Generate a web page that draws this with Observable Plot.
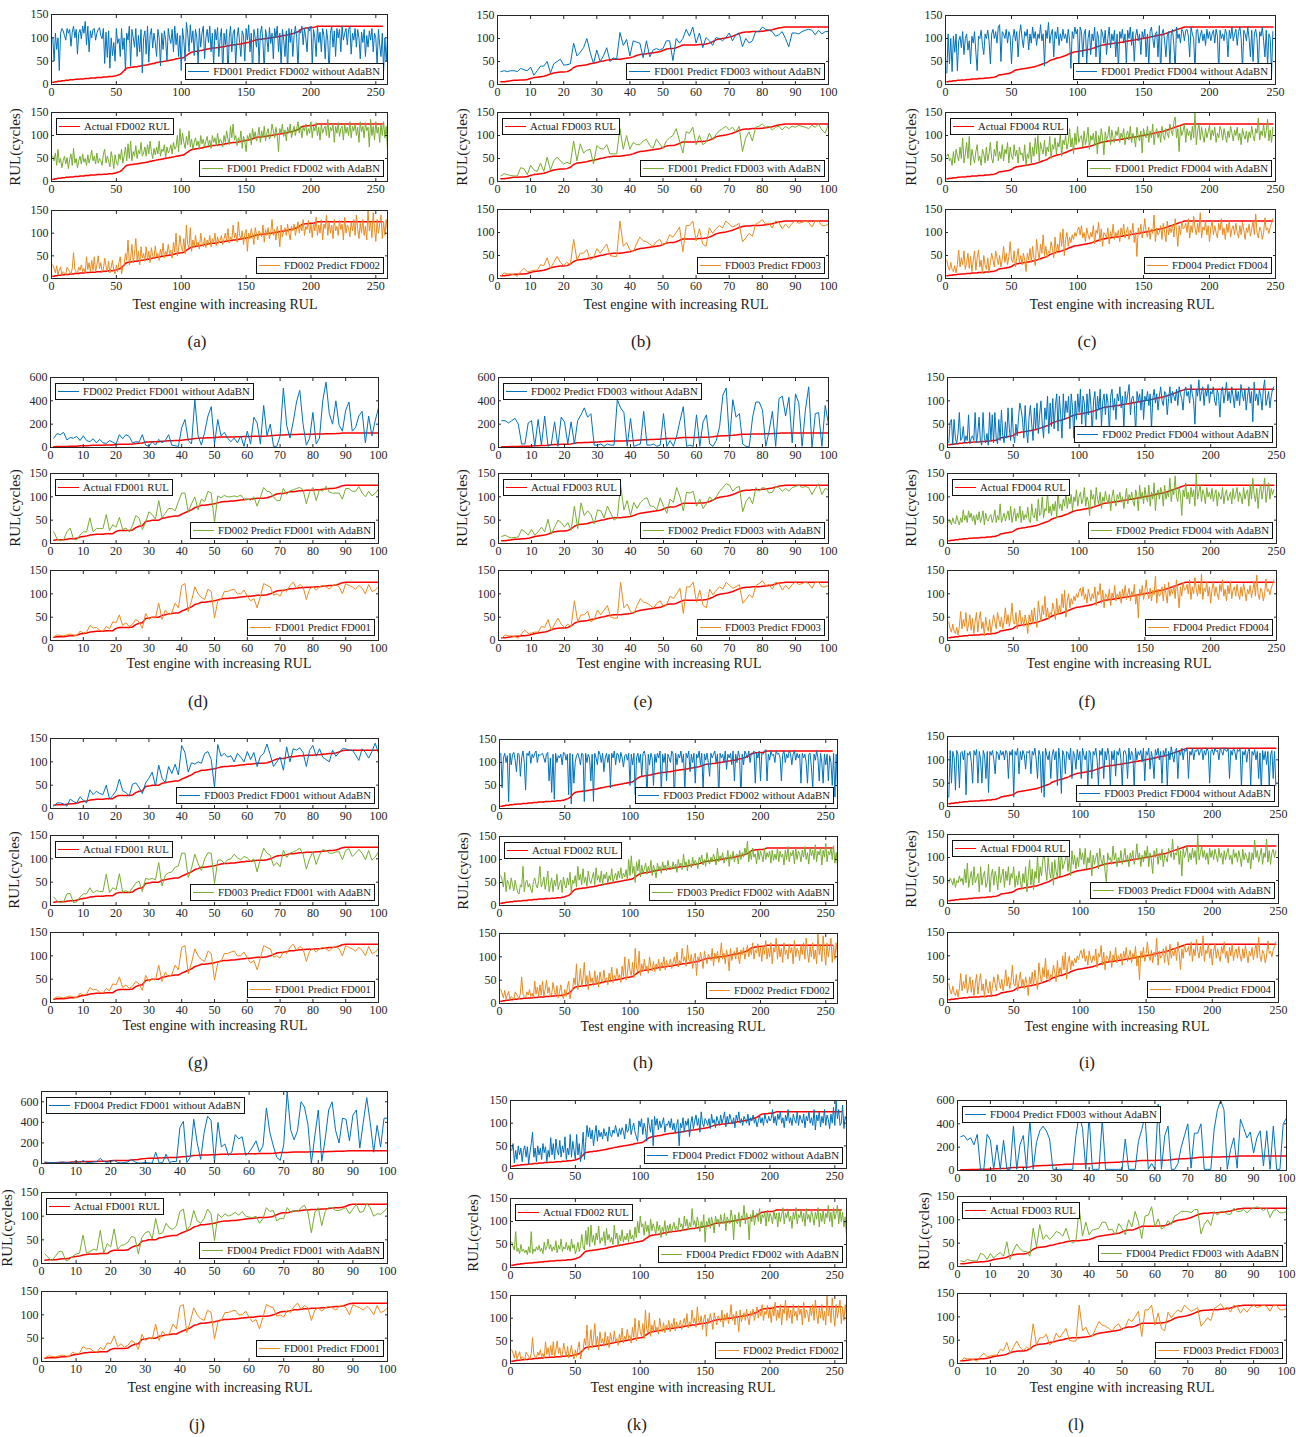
<!DOCTYPE html>
<html><head><meta charset="utf-8">
<script src="https://cdn.jsdelivr.net/npm/d3@7"></script>
<script src="https://cdn.jsdelivr.net/npm/@observablehq/plot@0.6"></script>
<style>
html,body{margin:0;padding:0;background:#fff;}
#fig{position:relative;width:1296px;height:1437px;overflow:hidden;font-family:"Liberation Serif","Times New Roman",serif;color:#1a1a1a;}
#fig svg{background:transparent !important;}
.lg{position:absolute;background:#fff;border:1px solid #111;font-size:10.8px;line-height:15px;padding:0 3px 0 2px;white-space:nowrap;display:flex;align-items:center;}
.lg .sw{display:inline-block;width:21px;height:0;border-top:1.5px solid;margin-right:4px;}
.tx{position:absolute;white-space:nowrap;transform:translate(-50%,-50%);}
</style></head><body><div id="fig"></div>
<script>
// ---------- tick labels ----------
const xTicks100 = [0,10,20,30,40,50,60,70,80,90,100];
const xTicks250 = [0,50,100,150,200,250];
const yTicks150 = [0,50,100,150];
const yTicks600 = [0,200,400,600];

// ---------- actual RUL (sorted, capped at 125) ----------
const actualFD001 = [7,8,8,8,9,10,10,11,14,15,16,18,19,20,20,20,21,21,21,26,28,28,28,28,29,34,37,38,47,48,50,50,50,54,55,57,58,59,59,63,66,69,72,77,79,82,82,83,84,85,87,89,90,90,91,91,92,93,94,95,95,96,97,97,97,98,100,103,106,107,107,109,111,111,112,113,113,114,114,114,115,115,116,117,118,118,119,121,124,125,125,125,125,125,125,125,125,125,125,125];
const actualFD003 = [6,6,7,8,9,9,10,10,11,13,15,16,17,18,20,23,25,26,27,27,28,31,37,40,41,42,43,45,46,48,50,51,53,54,55,55,55,56,57,58,60,63,65,66,67,68,69,70,71,74,77,78,78,80,83,86,86,86,86,86,87,87,88,90,93,97,99,100,101,103,105,108,111,113,114,114,115,115,115,116,117,118,119,121,123,124,125,125,125,125,125,125,125,125,125,125,125,125,125,125];
const actualFD002 = [5,5,6,6,7,7,7,8,8,8,9,9,9,10,10,10,10,11,11,11,11,12,12,12,12,13,13,13,13,14,14,14,14,14,15,15,15,15,15,16,16,16,16,17,17,17,17,18,18,19,20,21,22,24,27,30,33,35,36,36,37,37,37,38,38,38,39,39,40,40,41,41,42,42,43,44,44,45,45,46,47,47,48,48,49,49,50,50,51,51,52,52,53,53,54,55,55,56,56,57,57,58,60,62,64,66,68,69,70,70,71,71,72,72,73,73,74,75,75,76,76,77,77,78,78,78,79,79,80,80,80,81,81,82,82,83,83,84,84,85,85,85,86,86,87,87,88,88,89,89,90,90,91,92,93,94,95,96,96,97,97,97,98,98,98,99,99,100,100,100,101,101,102,102,103,103,104,104,105,105,106,106,107,108,108,109,110,111,112,113,115,117,119,120,120,121,121,121,122,122,122,122,123,124,125,125,125,125,125,125,125,125,125,125,125,125,125,125,125,125,125,125,125,125,125,125,125,125,125,125,125,125,125,125,125,125,125,125,125,125,125,125,125,125,125,125,125,125,125,125,125,125,125,125,125];
const actualFD004 = [6,6,7,7,7,8,8,8,9,9,9,10,10,10,10,11,11,11,11,12,12,12,12,12,13,13,13,13,13,14,14,14,14,15,15,15,16,17,18,20,21,21,22,22,23,23,24,24,25,26,28,30,31,32,32,33,33,34,34,35,35,36,36,37,37,38,38,39,40,41,42,43,44,45,46,47,48,50,52,53,54,55,56,57,58,58,59,60,61,62,63,64,66,67,68,69,70,71,71,72,72,73,73,74,74,75,75,76,76,77,78,79,80,81,82,83,84,85,86,86,87,87,88,88,88,89,89,90,90,90,91,91,92,92,93,93,94,94,95,95,96,96,97,97,98,98,99,99,100,100,101,101,102,102,103,104,104,105,106,106,107,107,108,108,109,110,111,112,113,114,115,116,117,118,119,120,121,122,123,124,125,125,125,125,125,125,125,125,125,125,125,125,125,125,125,125,125,125,125,125,125,125,125,125,125,125,125,125,125,125,125,125,125,125,125,125,125,125,125,125,125,125,125,125,125,125,125,125,125,125,125,125,125,125,125,125,125,125,125,125,125,125,125,125,125,125,125,125];

// ---------- FD001 as target ----------
const fd001PredFD001 = [8,12,11,10,12,14,12,10,20,16,18,32,27,28,22,20,30,25,40,38,55,32,38,30,35,45,40,26,58,45,50,48,80,45,65,55,60,80,70,118,122,62,85,115,100,92,88,110,105,48,85,88,105,105,108,110,100,100,108,95,85,90,70,95,122,118,115,97,100,95,110,105,118,125,112,120,115,88,110,115,108,115,118,115,110,118,120,115,100,122,118,115,110,118,112,100,120,105,108,115];
const fd002PredFD001Without = [80,120,110,130,65,85,80,95,60,100,60,50,75,40,70,40,35,60,45,30,110,75,110,95,40,50,45,110,20,10,50,20,70,40,60,110,20,15,10,170,240,60,30,410,100,20,130,270,350,30,240,100,130,80,50,80,40,100,10,140,30,260,210,30,360,100,200,10,10,100,510,190,80,220,390,490,200,20,80,300,30,80,400,560,290,200,400,190,140,320,390,140,170,270,310,40,270,100,230,340];
const fd002PredFD001With = [25,10,6,8,25,33,10,8,18,25,25,55,25,32,32,32,62,28,40,35,56,30,33,25,38,60,55,30,45,68,62,52,92,55,65,75,75,70,90,108,108,68,85,100,72,95,90,112,108,45,102,98,103,100,100,102,100,104,95,95,93,100,80,100,120,112,110,100,92,92,118,105,113,115,118,120,115,85,110,120,92,115,112,123,110,108,108,108,95,118,118,112,112,122,108,100,112,102,108,116];
const fd003PredFD001Without = [5,12,12,10,5,20,15,12,25,18,12,40,30,37,32,30,50,20,28,38,63,38,34,27,52,55,45,32,55,65,78,48,93,65,55,90,75,95,72,135,120,78,98,95,100,97,118,122,105,45,137,112,118,110,113,100,118,110,100,122,105,120,90,112,118,138,115,90,100,110,82,132,100,128,125,130,120,90,125,135,112,128,110,105,100,125,112,120,128,128,125,125,115,103,128,120,108,122,140,118];
const fd003PredFD001With = [18,10,6,8,25,26,6,8,18,25,25,38,27,32,30,30,67,28,38,34,68,28,32,28,38,48,52,30,58,56,58,55,92,42,65,70,72,82,85,112,112,60,80,110,90,75,100,113,112,47,97,98,90,98,100,110,102,98,105,102,95,100,72,100,123,112,108,85,92,83,118,103,112,115,118,123,110,78,100,115,88,108,120,118,112,112,115,115,98,118,122,105,112,120,112,98,118,97,104,115];
const fd004PredFD001Without = [15,10,10,5,10,15,10,5,10,25,5,30,10,10,15,20,50,20,10,20,30,10,5,10,15,40,15,5,5,10,5,5,110,5,10,90,10,20,20,350,410,10,60,430,200,40,300,460,420,10,400,160,190,80,110,280,240,260,80,110,160,220,110,170,540,300,170,60,30,180,700,330,230,320,600,550,380,0,270,520,20,240,520,600,320,200,440,430,220,470,520,150,400,640,400,110,370,160,440,440];
const fd004PredFD001With = [20,12,6,15,25,25,6,8,15,20,22,60,22,25,30,28,70,22,42,35,73,30,38,40,45,57,55,20,55,65,68,52,95,62,65,85,75,72,80,110,115,70,80,112,90,85,95,115,105,48,105,97,105,100,103,108,102,110,100,98,97,100,85,95,118,110,112,90,95,95,118,108,112,110,118,123,108,65,108,118,80,110,118,118,112,112,115,118,105,115,125,108,110,127,118,100,105,104,110,118];

// ---------- FD003 as target ----------
const fd003PredFD003 = [5,12,10,10,8,5,15,22,15,16,18,18,30,28,45,22,35,48,35,28,35,30,85,40,55,55,63,40,45,65,55,65,75,50,48,48,125,70,78,62,58,75,90,82,80,75,70,80,85,72,78,95,90,100,112,58,115,115,125,82,108,75,70,110,98,108,115,110,125,118,112,115,120,80,88,98,92,118,122,128,118,120,110,125,122,108,118,110,120,125,120,122,125,122,112,125,125,115,115,118];
const fd001PredFD003Without = [28,30,28,30,30,28,35,32,30,38,20,30,40,40,50,25,45,50,55,42,43,45,90,62,70,80,100,70,45,75,50,62,80,50,58,55,113,85,98,62,95,92,90,58,95,60,75,78,75,78,95,95,52,100,90,100,120,105,125,90,112,80,102,95,85,102,100,95,102,112,95,108,112,82,100,90,95,115,115,125,120,118,115,105,108,115,100,82,112,112,110,115,118,120,118,108,118,110,115,115];
const fd001PredFD003With = [12,17,15,13,12,12,30,28,15,35,25,22,40,22,53,25,45,53,45,38,42,38,88,45,82,62,68,70,38,78,72,70,80,60,60,60,115,70,100,70,85,80,80,88,92,78,72,92,82,72,88,95,100,115,88,62,108,105,118,80,100,80,85,105,90,102,110,115,120,112,118,108,120,65,95,108,88,118,120,125,118,120,112,118,120,112,120,115,120,118,122,120,118,115,122,118,125,112,105,125];
const fd002PredFD003Without = [230,230,210,230,250,200,30,30,210,230,10,240,20,270,10,30,220,10,260,220,30,220,30,230,280,340,260,290,20,20,30,10,30,20,20,410,340,300,10,250,10,20,30,310,20,20,30,10,20,290,10,60,10,100,230,350,10,20,10,280,10,220,280,30,10,60,180,450,510,50,410,260,290,30,10,10,260,390,390,320,10,140,310,10,420,440,270,430,40,460,380,10,320,520,0,290,300,10,360,200];
const fd002PredFD003With = [15,18,14,12,13,14,30,25,18,30,18,25,35,25,52,20,35,50,45,35,45,28,80,32,87,60,70,62,42,72,70,55,80,65,50,55,125,72,92,60,88,75,88,95,98,80,80,72,98,80,65,95,88,120,100,70,110,108,112,80,95,75,85,100,92,100,112,120,128,125,112,120,122,68,90,100,85,120,112,120,118,108,110,122,120,112,118,112,120,122,125,120,122,120,105,118,128,105,118,115];
const fd004PredFD003Without = [290,300,260,280,220,310,10,10,310,260,10,220,10,260,10,10,380,10,220,300,10,440,10,240,340,380,340,270,10,10,10,10,10,10,10,300,480,360,10,470,10,10,10,440,10,10,10,10,10,10,270,10,10,10,250,350,470,10,60,10,570,10,300,380,10,10,60,200,300,400,20,320,320,400,10,10,10,350,520,600,520,10,180,280,20,440,360,280,330,150,280,340,40,340,10,380,10,10,400,450];
const fd004PredFD003With = [12,10,15,13,12,12,28,25,15,28,18,25,30,22,53,15,35,48,38,32,32,22,82,42,90,58,68,58,65,75,72,65,82,58,50,55,125,65,95,68,78,80,82,95,95,78,80,68,92,82,68,100,85,118,95,60,108,110,128,85,102,80,85,98,90,108,112,118,118,118,115,122,122,70,90,100,88,118,110,118,118,112,112,125,118,118,122,115,122,125,128,125,120,125,105,120,122,115,115,118];

// ---------- FD002 as target ----------
const fd002PredFD002 = [30,22,12,28,10,18,26,8,15,12,8,25,20,15,10,22,57,20,15,12,25,18,30,15,22,12,48,20,35,15,40,18,48,15,30,50,22,35,15,20,45,28,15,38,12,25,40,18,10,30,15,35,48,10,25,30,55,40,85,30,45,75,35,55,88,40,60,30,70,45,55,38,70,42,60,35,68,50,45,72,48,55,40,65,50,78,45,60,52,75,55,62,45,80,58,100,50,65,95,70,60,88,55,118,75,68,112,60,85,70,95,72,80,65,100,78,70,90,68,85,75,95,70,88,80,100,72,92,78,85,95,75,88,100,82,110,78,92,85,118,90,100,80,125,95,88,105,75,98,108,60,100,88,110,95,75,112,98,85,105,100,92,118,80,108,95,112,88,102,130,95,108,85,115,100,70,118,92,105,112,95,120,100,85,115,105,120,95,110,125,100,118,105,130,95,115,108,128,100,120,90,125,105,135,95,118,100,130,85,120,110,140,95,125,100,118,88,130,105,115,95,128,108,120,85,135,100,118,112,92,125,105,130,95,140,110,88,122,100,130,95,115,85,150,105,125,90,145,110,82,130,100,120,140,88,125,95,130,105];
const fd001PredFD002Without = [100,50,110,75,100,30,110,120,115,105,95,120,110,118,82,112,125,100,118,65,110,118,98,125,110,135,85,125,70,115,100,118,120,95,110,118,122,105,98,120,45,112,58,115,35,100,62,90,50,120,88,98,60,120,75,100,30,110,95,125,40,118,100,80,120,60,105,70,118,25,100,115,65,125,48,105,120,78,110,90,60,118,100,40,110,75,115,95,50,120,100,88,118,70,125,85,110,60,105,30,120,95,50,133,110,70,128,90,115,62,118,100,45,120,80,110,125,55,100,118,90,125,70,110,40,118,95,122,60,100,120,20,110,85,118,15,100,125,70,110,118,40,100,122,90,60,115,105,50,120,95,128,70,110,20,118,100,80,120,45,110,125,90,30,118,100,70,122,88,110,55,120,100,125,70,110,40,118,95,60,115,25,120,90,118,60,105,125,100,30,118,110,125,85,120,100,70,122,115,125,40,118,100,60,125,90,112,70,120,105,55,118,95,20,110,125,80,115,60,120,100,118,70,125,95,110,120,85,118,125,65,110,95,120,80,118,100,55,112,90,118,60,105,80,115,95,120,70,110,100,40,118,85,60,110,30,100,50,100];
const fd001PredFD002With = [55,45,62,35,70,40,50,30,45,55,38,52,28,48,60,35,72,40,50,30,45,55,38,60,42,50,35,58,40,52,68,45,55,38,62,40,50,45,35,60,70,40,55,45,32,65,50,28,58,42,35,60,48,70,40,55,75,45,82,50,88,45,65,55,78,50,68,60,85,55,62,75,55,80,60,88,65,50,72,58,75,60,88,55,70,65,80,52,75,62,68,80,60,85,70,75,100,65,115,80,105,85,72,98,80,110,75,92,70,85,95,78,88,70,100,82,92,75,88,98,78,90,72,100,85,95,78,105,82,92,88,75,100,85,110,92,80,120,95,125,90,100,78,95,85,110,72,98,88,65,100,92,105,80,115,95,108,88,100,118,85,110,95,120,88,105,115,92,100,125,110,95,118,100,65,115,105,125,98,112,88,118,105,125,95,110,120,100,115,130,105,120,95,118,110,125,100,115,105,130,95,120,110,128,100,118,90,125,105,115,120,100,135,95,118,110,125,85,120,105,128,98,115,120,90,125,105,118,100,130,95,120,110,125,100,118,85,130,108,120,95,128,110,118,75,135,100,120,90,130,105,118,85,125,100,130,95,120,70];
const fd003PredFD002Without = [120,45,110,120,100,115,15,120,95,118,122,105,80,120,118,70,110,125,100,40,120,115,125,98,118,110,120,125,100,118,115,118,120,110,100,118,122,60,110,35,118,20,120,100,115,110,118,95,122,120,105,118,30,120,10,118,55,100,115,120,110,95,120,118,15,120,100,118,110,60,118,15,120,110,95,125,118,100,120,80,110,120,100,118,45,120,110,125,95,120,118,100,122,110,90,115,118,105,120,50,118,95,120,30,110,120,100,118,70,120,125,110,20,118,95,120,110,50,118,100,120,110,125,35,118,100,120,60,118,110,100,125,118,10,120,95,118,110,125,100,118,40,120,110,125,80,118,100,120,55,118,110,125,95,120,40,118,105,120,100,70,120,110,118,125,100,118,20,120,110,118,100,125,85,118,110,120,95,125,60,118,100,125,110,20,118,95,125,118,110,125,100,120,118,125,55,120,110,125,60,120,118,125,128,60,118,105,125,115,118,100,125,118,120,110,60,118,125,100,118,110,125,120,95,118,125,105,120,110,118,55,120,110,118,100,55,118,120,90,45,118,105,125,110,60,120,100,55,118,95,118,60,115,100,50,120,25,118,40];
const fd003PredFD002With = [65,55,40,72,30,55,48,35,60,45,32,55,40,28,25,45,40,85,30,50,55,40,48,35,28,52,60,45,38,55,85,40,48,62,35,52,75,30,45,60,30,55,42,68,35,48,55,28,62,45,38,60,45,72,28,55,48,65,40,85,55,68,45,80,50,62,42,75,55,48,60,72,45,82,55,65,50,75,45,68,58,72,48,65,55,80,50,62,70,55,75,60,82,58,70,62,78,55,100,65,108,70,85,50,95,75,100,62,88,70,80,92,68,85,72,98,65,88,75,60,92,78,85,70,95,80,88,75,98,82,85,78,95,80,90,72,100,85,92,78,112,88,95,75,100,90,82,105,88,98,92,80,105,95,110,88,100,85,115,98,90,105,95,112,100,88,125,95,108,100,115,92,105,98,120,85,110,100,118,95,108,112,90,120,100,115,105,125,110,140,95,118,100,125,105,112,90,120,100,118,108,95,125,100,115,105,118,92,120,98,112,100,125,95,118,105,112,88,120,100,128,95,115,108,120,90,125,100,118,112,95,120,105,128,100,115,90,125,108,120,100,132,95,118,110,125,88,120,105,135,95,118,110,125,100,130,92,115,85];
const fd004PredFD002Without = [40,55,12,40,20,50,30,45,15,40,50,25,48,10,35,55,80,25,45,15,50,30,45,20,55,35,48,15,40,25,68,30,55,20,65,40,30,62,25,50,35,70,20,45,30,75,25,60,40,20,75,30,55,15,40,80,20,60,95,70,90,65,85,50,75,95,60,85,70,80,65,88,72,80,60,92,75,70,85,78,95,80,70,88,75,90,82,65,98,80,85,110,75,90,100,80,70,60,105,92,110,75,100,88,60,112,95,80,108,50,115,95,110,85,105,90,100,112,80,98,95,105,90,110,85,100,78,95,108,50,100,90,112,80,105,95,110,70,100,115,88,105,118,95,110,80,125,100,92,110,105,95,110,88,120,100,108,90,115,105,95,118,100,110,125,92,115,100,120,108,98,112,90,118,105,125,100,110,95,115,108,100,120,95,112,105,118,100,110,92,105,118,100,112,95,120,108,100,115,105,110,130,100,115,95,120,108,125,100,112,90,118,105,130,100,112,95,120,108,100,125,95,118,108,100,120,90,115,105,125,100,112,95,130,85,118,105,125,92,115,100,130,95,118,108,88,120,100,135,95,150,110,130,95,100,140,88,115,105];
const fd004PredFD002With = [55,45,38,78,35,42,30,50,35,40,32,38,28,45,32,78,30,40,35,45,38,48,35,42,30,55,38,45,62,40,50,35,45,38,58,32,48,40,62,35,45,40,55,38,48,35,62,42,50,30,40,55,35,48,72,45,38,80,50,88,45,92,55,70,48,75,60,90,52,65,58,78,48,85,60,72,55,65,50,92,62,75,48,70,58,82,55,68,60,75,55,82,62,70,58,88,65,100,75,112,88,95,70,100,78,92,68,105,80,95,85,72,100,80,92,65,88,78,102,70,92,80,95,75,88,98,82,90,78,108,88,95,80,112,90,105,82,98,88,128,92,102,85,110,95,78,100,88,115,55,100,92,108,85,110,95,75,112,98,105,88,115,100,95,118,80,110,102,95,125,108,60,115,100,95,120,88,112,105,135,95,118,105,60,115,100,125,92,110,118,100,128,95,115,108,120,90,125,100,118,110,95,125,105,118,88,120,100,115,130,95,118,108,125,100,112,85,120,105,130,95,115,108,125,100,118,90,128,105,115,98,125,110,92,120,105,130,88,118,100,125,95,118,108,135,100,120,88,130,105,118,135,95,125,100,120,88,110,70];

// ---------- FD004 as target ----------
const fd004PredFD004 = [40,25,18,35,20,15,28,12,30,62,25,45,30,60,20,35,55,22,48,15,40,60,18,45,62,25,40,10,50,30,20,45,15,35,55,40,25,60,45,30,50,25,42,70,35,55,30,48,80,40,35,60,25,45,65,35,50,30,55,40,15,55,40,65,35,70,45,28,85,60,40,75,55,95,50,70,45,60,55,80,65,45,90,55,75,60,100,70,108,50,85,100,70,90,78,95,85,100,92,105,112,95,115,88,100,80,110,95,85,100,90,115,75,105,98,122,80,108,70,100,95,88,110,75,102,90,118,85,100,92,105,80,110,95,118,88,100,112,85,105,95,120,78,100,48,110,95,118,88,105,130,100,90,112,85,108,98,138,80,110,95,100,115,85,120,100,80,125,95,110,100,118,90,130,105,70,115,95,125,108,110,120,100,130,88,115,100,135,110,95,120,100,143,88,112,105,125,95,115,80,110,125,95,115,100,88,120,105,130,95,110,85,118,100,125,90,108,115,95,120,100,88,115,95,122,105,85,110,100,118,92,108,125,95,140,100,88,112,105,85,100,132,105,110,98,112,120,130];
const fd001PredFD004Without = [25,110,45,100,28,105,70,110,30,95,105,80,115,65,100,110,75,95,45,105,90,115,70,30,105,100,118,85,65,110,100,118,95,45,110,120,100,115,90,125,130,50,115,110,100,120,90,115,105,45,100,120,95,115,60,110,130,100,80,115,105,120,75,110,90,125,100,115,85,110,100,130,95,110,40,118,100,135,90,110,120,60,115,100,125,85,110,95,120,100,110,90,120,95,35,115,100,125,110,120,40,125,115,60,110,120,45,100,118,65,110,95,125,60,115,100,30,120,110,90,118,65,100,125,80,110,95,118,60,110,30,115,100,120,90,110,45,118,100,125,85,115,50,105,120,95,110,65,115,100,120,60,110,40,115,125,100,80,110,115,60,128,20,110,120,95,60,105,115,40,110,120,85,30,125,100,110,90,120,115,95,118,120,105,60,125,110,100,30,118,120,90,105,118,95,110,85,120,100,115,95,110,118,90,120,105,30,118,100,110,95,120,110,60,118,100,125,95,110,120,85,115,125,100,30,118,110,95,125,100,60,118,50,110,120,100,30,115,105,125,95,60,118,40,110,100,20,115];
const fd001PredFD004With = [55,60,45,50,35,65,40,70,55,45,75,50,95,40,60,85,50,98,35,70,55,40,65,80,45,55,35,70,60,40,75,45,60,85,50,40,70,55,88,45,65,50,80,45,70,60,85,40,75,55,48,80,55,68,40,75,58,62,45,80,35,60,50,85,40,75,55,95,60,100,45,85,70,60,90,55,75,65,98,50,80,70,95,60,85,75,105,55,90,80,100,70,85,115,75,95,60,105,80,120,85,95,100,75,110,80,95,118,70,100,90,105,78,110,60,100,85,115,95,58,108,90,100,120,80,112,95,85,110,100,118,85,105,95,115,80,100,110,90,120,85,105,95,75,118,100,88,110,62,115,100,95,120,85,110,95,125,80,105,115,95,110,85,120,100,90,115,105,95,125,110,100,130,140,95,115,65,120,100,110,125,85,115,100,110,90,120,95,150,80,110,125,90,118,100,85,115,95,108,122,90,112,100,118,85,105,95,120,110,90,115,100,85,110,95,120,105,88,112,100,118,90,105,80,115,100,92,110,85,108,95,120,100,88,115,105,138,90,110,100,125,95,110,135,88,112,85,118];
const fd002PredFD004Without = [10,55,60,5,60,20,8,30,75,15,20,45,10,25,15,70,8,20,25,15,75,10,30,65,15,5,75,20,10,30,5,75,15,70,10,75,20,8,60,15,80,25,10,55,20,85,40,15,85,30,10,50,25,65,95,80,60,20,90,35,10,65,90,50,15,85,40,95,30,70,100,50,20,85,60,110,30,95,45,105,40,90,115,35,110,70,20,115,60,100,75,110,40,115,85,20,100,60,115,75,125,50,110,95,40,115,70,125,90,30,100,120,60,110,80,125,45,100,115,70,115,95,30,110,125,80,105,60,115,100,130,85,110,40,120,95,115,135,70,105,110,90,30,120,100,115,80,125,60,110,100,120,90,115,40,105,125,95,115,80,110,130,100,90,120,115,70,105,130,95,120,110,100,125,90,130,115,105,80,120,130,110,120,95,135,115,100,50,125,110,145,100,120,130,90,125,110,135,95,120,115,130,100,90,125,110,65,120,130,95,115,140,100,120,95,130,110,85,125,100,120,90,135,115,100,125,80,110,130,95,120,55,140,100,115,90,125,110,80,125,145,90,105,120,85,110,125,130];
const fd002PredFD004With = [45,50,40,55,45,42,60,48,40,55,45,72,50,60,45,70,55,65,48,60,40,62,50,68,45,55,70,40,65,52,48,58,62,45,55,72,45,60,50,85,45,55,65,48,60,70,50,80,45,60,75,48,65,55,80,45,70,50,62,55,78,50,45,85,60,55,75,48,95,60,65,100,55,75,70,110,65,80,60,85,70,90,55,115,75,85,70,95,80,110,75,98,85,105,70,100,90,115,80,100,110,85,95,120,80,100,90,60,115,95,105,80,120,95,85,110,75,100,90,112,95,85,105,70,100,115,90,80,105,95,110,88,100,75,95,118,85,105,95,110,90,80,115,100,70,125,95,110,85,120,100,90,125,80,110,95,130,70,105,115,95,120,110,80,125,95,110,100,140,90,115,105,145,100,90,120,105,60,115,100,130,95,110,85,120,100,115,80,150,95,110,125,90,115,105,85,120,100,110,95,118,90,105,115,80,110,100,95,120,85,105,115,92,100,110,85,118,95,105,120,90,110,100,85,120,95,108,115,80,125,95,140,105,90,118,75,110,125,95,115,140,88,110,130,95,118,105,115];
const fd003PredFD004Without = [20,120,50,118,105,35,120,110,40,115,118,100,120,25,115,110,118,95,50,120,110,122,50,118,100,50,120,110,60,118,30,118,110,120,100,70,118,115,100,120,110,118,100,120,115,60,118,110,122,20,118,110,125,70,118,100,120,110,80,118,115,120,70,118,110,125,100,60,120,110,30,118,20,125,110,100,118,60,110,122,100,118,45,125,100,28,120,110,70,118,115,100,125,60,118,110,80,122,100,118,60,125,110,100,118,40,120,115,60,118,110,125,100,45,120,110,125,60,118,100,125,110,40,118,100,120,65,118,110,125,100,45,118,120,110,60,125,100,118,110,40,125,100,118,110,120,95,125,55,118,110,125,80,118,100,60,122,110,125,100,118,50,120,110,125,45,118,100,128,110,95,120,125,60,118,110,125,100,122,118,125,60,118,110,125,100,120,118,125,110,118,125,100,120,110,125,118,50,120,122,110,125,118,120,100,125,118,110,125,120,118,125,60,120,110,125,118,100,122,118,125,40,118,110,122,95,118,125,45,118,110,122,100,118,60,115,30,120,100,118,90,118,45,110,120,60,118,45];
const fd003PredFD004With = [45,55,50,40,55,35,50,45,60,48,55,40,75,45,88,35,55,70,40,80,45,55,65,25,80,40,60,70,35,45,85,25,60,75,40,70,55,30,80,45,60,75,35,70,50,80,40,65,55,80,35,60,40,70,50,30,65,45,80,25,60,95,40,75,30,70,55,105,45,80,60,95,110,75,50,100,70,55,90,40,95,70,55,105,60,115,75,85,95,110,70,100,60,115,85,105,75,100,80,120,95,110,85,120,75,100,88,115,60,105,85,100,110,75,120,95,85,105,70,45,110,95,100,85,125,95,110,80,100,90,115,85,100,120,90,105,80,110,95,115,85,100,130,95,110,80,105,90,115,100,125,80,110,95,65,115,100,120,85,110,95,118,80,105,100,90,120,110,100,140,95,110,105,125,85,115,60,120,100,110,125,90,110,95,120,100,115,85,150,95,110,125,100,115,95,110,85,120,100,115,95,118,105,90,120,100,110,85,115,95,110,120,95,105,85,118,100,110,90,115,100,80,118,95,110,100,88,112,75,110,95,138,100,115,90,105,120,85,110,100,140,90,115,85,110,118,100,115];

// ---------- layout ----------
const targets = {
  FD001: {actual: actualFD001, xmax: 100, xticks: xTicks100},
  FD002: {actual: actualFD002, xmax: 259, xticks: xTicks250},
  FD003: {actual: actualFD003, xmax: 100, xticks: xTicks100},
  FD004: {actual: actualFD004, xmax: 250, xticks: xTicks250}
};
const COL = {blue: "#0072BD", green: "#77AC30", orange: "#EA8A1F", red: "#FF0000"};

const panels = [
  {cap:"(a)", capX:197, capY:342, tgt:"FD002", src:"FD001", wo:fd001PredFD002Without, w:fd001PredFD002With, self:fd002PredFD002, woPos:"br", x0:51, x1:387, ys:[[14,84],[112,181],[210,278]], xlX:225, xlY:305, ylX:15},
  {cap:"(b)", capX:641, capY:342, tgt:"FD003", src:"FD001", wo:fd001PredFD003Without, w:fd001PredFD003With, self:fd003PredFD003, woPos:"br", x0:497, x1:828, ys:[[15,84],[112,181],[209,278]], xlX:676, xlY:305, ylX:462},
  {cap:"(c)", capX:1087, capY:342, tgt:"FD004", src:"FD001", wo:fd001PredFD004Without, w:fd001PredFD004With, self:fd004PredFD004, woPos:"br", x0:945, x1:1275, ys:[[15,84],[112,181],[209,278]], xlX:1122, xlY:305, ylX:911},
  {cap:"(d)", capX:198, capY:702, tgt:"FD001", src:"FD002", wo:fd002PredFD001Without, w:fd002PredFD001With, self:fd001PredFD001, woPos:"tl", woMax:600, x0:50, x1:378, ys:[[377,447],[473,543],[570,640]], xlX:219, xlY:664, ylX:15},
  {cap:"(e)", capX:643, capY:702, tgt:"FD003", src:"FD002", wo:fd002PredFD003Without, w:fd002PredFD003With, self:fd003PredFD003, woPos:"tl", woMax:600, x0:498, x1:828, ys:[[377,447],[473,543],[570,640]], xlX:669, xlY:664, ylX:462},
  {cap:"(f)", capX:1087, capY:702, tgt:"FD004", src:"FD002", wo:fd002PredFD004Without, w:fd002PredFD004With, self:fd004PredFD004, woPos:"br", x0:947, x1:1276, ys:[[377,447],[473,543],[570,640]], xlX:1119, xlY:664, ylX:911},
  {cap:"(g)", capX:198, capY:1063, tgt:"FD001", src:"FD003", wo:fd003PredFD001Without, w:fd003PredFD001With, self:fd001PredFD001, woPos:"br", x0:50, x1:378, ys:[[738,808],[835,905],[932,1002]], xlX:215, xlY:1026, ylX:14},
  {cap:"(h)", capX:643, capY:1063, tgt:"FD002", src:"FD003", wo:fd003PredFD002Without, w:fd003PredFD002With, self:fd002PredFD002, woPos:"br", x0:499, x1:837, ys:[[739,808],[836,905],[933,1003]], xlX:673, xlY:1027, ylX:463},
  {cap:"(i)", capX:1087, capY:1063, tgt:"FD004", src:"FD003", wo:fd003PredFD004Without, w:fd003PredFD004With, self:fd004PredFD004, woPos:"br", x0:947, x1:1278, ys:[[736,806],[834,903],[932,1002]], xlX:1117, xlY:1027, ylX:911},
  {cap:"(j)", capX:197, capY:1425, tgt:"FD001", src:"FD004", wo:fd004PredFD001Without, w:fd004PredFD001With, self:fd001PredFD001, woPos:"tl", woMax:700, x0:41, x1:387, ys:[[1091,1163],[1192,1263],[1291,1361]], xlX:220, xlY:1388, ylX:7},
  {cap:"(k)", capX:637, capY:1425, tgt:"FD002", src:"FD004", wo:fd004PredFD002Without, w:fd004PredFD002With, self:fd002PredFD002, woPos:"br", x0:510, x1:846, ys:[[1100,1168],[1198,1267],[1295,1363]], xlX:683, xlY:1388, ylX:473},
  {cap:"(l)", capX:1076, capY:1425, tgt:"FD003", src:"FD004", wo:fd004PredFD003Without, w:fd004PredFD003With, self:fd003PredFD003, woPos:"tl", woMax:600, x0:957, x1:1286, ys:[[1100,1170],[1196,1266],[1293,1363]], xlX:1122, xlY:1388, ylX:924}
];

const fig = document.getElementById("fig");
const M = {l: 36, r: 8, t: 8, b: 20};
const AX = "#262626";

function addText(str, x, y, size, rotate) {
  const d = document.createElement("div");
  d.className = "tx";
  d.textContent = str;
  d.style.left = x + "px"; d.style.top = y + "px";
  d.style.fontSize = size + "px";
  if (rotate) d.style.transform = "translate(-50%,-50%) rotate(-90deg)";
  fig.appendChild(d);
}
function addLegend(label, color, pos, P, t, b) {
  const d = document.createElement("div");
  d.className = "lg";
  const sw = document.createElement("span"); sw.className = "sw"; sw.style.borderColor = color;
  const tx = document.createElement("span"); tx.textContent = label;
  d.appendChild(sw); d.appendChild(tx);
  if (pos === "tl") { d.style.left = (P.x0 + 5) + "px"; d.style.top = (t + 6) + "px"; }
  else { d.style.right = (1296 - P.x1 + 3) + "px"; d.style.bottom = (1437 - b + 4) + "px"; }
  fig.appendChild(d);
}

function subplot(P, k, pred, color, yMax, yTicks) {
  const [t, b] = P.ys[k];
  const T = targets[P.tgt];
  const w = P.x1 - P.x0, h = b - t;
  const svg = Plot.plot({
    width: w + M.l + M.r, height: h + M.t + M.b,
    marginLeft: M.l, marginRight: M.r, marginTop: M.t, marginBottom: M.b,
    x: {domain: [0, T.xmax]},
    y: {domain: [0, yMax]},
    style: {fontFamily: "Liberation Serif, Times New Roman, serif", fontSize: "12px", color: AX, background: "transparent", overflow: "visible"},
    marks: [
      Plot.lineY(T.actual, {x: (d, i) => i + 1, y: d => d, stroke: COL.red, strokeWidth: 1.5, clip: true}),
      Plot.lineY(pred, {x: (d, i) => i + 1, y: d => d, stroke: color, strokeWidth: 1, clip: true}),
      Plot.frame({stroke: AX, strokeWidth: 1}),
      Plot.axisX({ticks: T.xticks, tickSize: 0, tickPadding: 3, label: null, tickFormat: d => String(d)}),
      Plot.axisX({ticks: T.xticks, tickSize: -3, fill: "none", label: null}),
      Plot.axisX({ticks: T.xticks, anchor: "top", tickSize: -3, fill: "none", label: null}),
      Plot.axisY({ticks: yTicks, tickSize: 0, tickPadding: 3, label: null, tickFormat: d => String(d)}),
      Plot.axisY({ticks: yTicks, tickSize: -3, fill: "none", label: null}),
      Plot.axisY({ticks: yTicks, anchor: "right", tickSize: -3, fill: "none", label: null})
    ]
  });
  svg.style.position = "absolute";
  svg.style.left = (P.x0 - M.l) + "px";
  svg.style.top = (t - M.t) + "px";
  svg.style.maxWidth = "none";
  fig.appendChild(svg);
}

// plots first
for (const P of panels) {
  const woMax = P.woMax || 150;
  const woTicks = P.woMax ? yTicks600 : yTicks150;
  subplot(P, 0, P.wo, COL.blue, woMax, woTicks);
  subplot(P, 1, P.w, COL.green, 150, yTicks150);
  subplot(P, 2, P.self, COL.orange, 150, yTicks150);
}
// legends and texts on top
for (const P of panels) {
  addLegend(`${P.src} Predict ${P.tgt} without AdaBN`, COL.blue, P.woPos, P, P.ys[0][0], P.ys[0][1]);
  addLegend(`Actual ${P.tgt} RUL`, COL.red, "tl", P, P.ys[1][0], P.ys[1][1]);
  addLegend(`${P.src} Predict ${P.tgt} with AdaBN`, COL.green, "br", P, P.ys[1][0], P.ys[1][1]);
  addLegend(`${P.tgt} Predict ${P.tgt}`, COL.orange, "br", P, P.ys[2][0], P.ys[2][1]);
  addText("RUL(cycles)", P.ylX, (P.ys[1][0] + P.ys[1][1]) / 2, 15, true);
  addText("Test engine with increasing RUL", P.xlX, P.xlY, 14, false);
  addText(P.cap, P.capX, P.capY, 17, false);
}
</script></body></html>
